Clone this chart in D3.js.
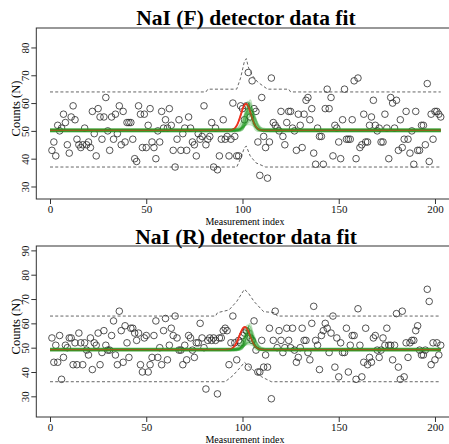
<!DOCTYPE html>
<html>
<head>
<meta charset="utf-8">
<script src="https://cdn.jsdelivr.net/npm/d3@7"></script>
<style>
  html, body { margin: 0; padding: 0; background: #fff; }
  svg { display: block; font-family: "Liberation Serif", "DejaVu Serif", serif; }
</style>
</head>
<body>
<svg id="chart" width="449" height="444"></svg>
<script>
// ---- Measured counts per index (1..203) ----
const topCounts = [
  43,46,41,52,50,51,56,53,45,42, 55,59,54,47,45,44,45,51,45,46,
  44,57,49,41,58,55,47,55,62,50, 43,55,47,56,49,59,45,57,46,53,
  53,53,47,40,39,59,56,44,56,44, 52,58,46,44,40,50,46,57,51,54,
  51,58,52,43,37,47,54,43,49,51, 43,55,51,46,45,41,49,47,48,59,
  45,47,48,53,37,51,36,41,47,54, 47,48,41,47,60,48,41,41,59,58,
  54,59,71,55,68,58,57,46,34,62, 48,44,33,46,69,53,52,51,50,57,
  48,45,53,57,57,51,50,43,56,52, 44,56,61,62,54,58,42,38,51,48,
  48,38,58,65,58,62,41,52,51,46, 40,54,65,47,47,47,54,68,40,69,
  44,45,56,46,46,52,55,61,52,50, 51,46,46,56,51,40,62,60,51,61,
  43,54,44,47,57,47,42,50,38,57, 43,43,52,52,45,67,39,56,47,57,
  57,56,55
];
const bottomCounts = [
  54,44,51,44,55,37,46,51,50,54, 54,43,52,43,56,52,43,52,49,47,
  54,41,52,51,56,43,48,57,51,49, 49,55,61,47,43,65,57,44,59,52,
  46,58,58,56,53,56,43,40,54,55, 40,43,46,55,61,46,50,43,57,62,
  45,51,58,55,63,54,49,49,43,51, 45,55,54,49,46,52,52,60,54,50,
  33,53,54,53,54,53,31,54,54,57, 58,57,43,52,63,52,45,53,52,55,
  56,57,42,54,53,61,49,40,40,53, 42,47,42,58,29,53,65,50,57,53,
  48,50,58,53,50,58,49,44,46,50, 58,53,53,48,45,60,67,53,51,41,
  55,57,60,58,48,56,63,42,54,38, 52,48,48,58,40,51,55,55,37,66,
  51,38,44,58,43,46,44,54,55,49, 46,49,54,51,58,51,51,45,51,64,
  42,37,65,38,52,46,52,53,53,57, 59,49,47,47,49,74,69,43,52,45,
  52,47,51
];

// ---- Prediction band (dashed), [index, counts] ----
const topUpper = [[0,64],[81,64],[82,65],[97,65],[99,69],[101,75],[102,76],[103,73],[105,70],[108,67.5],[113,65],[124,65],[125,64],[203,64]];
const topLower = [[0,37],[97,37],[99,40],[101,44],[102,44.5],[104,41],[107,38.5],[112,37],[203,37]];
const bottomUpper = [[0,63],[86,63],[87,64.4],[93,65.5],[97,69],[101,74],[103,72.5],[106,69],[111,64.8],[117,64.4],[118,63],[203,63]];
const bottomLower = [[0,36],[91,36],[95,38.5],[99,42],[101,44],[103,42.5],[106,40.5],[110,38],[115,36],[203,36]];

// ---- Fitted peak model: best fit (red) and posterior draws (green) ----
// each fit = baseline + amplitude * exp(-(x - centre)^2 / (2 width^2))
const topBestFit = { base: 50.2, amp: 9.5, centre: 101.8, width: 2.6 };
const topDrawBase   = [50.0,50.4,49.8,50.6,50.2,49.7,50.5,50.1,49.9,50.7,50.3,49.6,50.0,50.4,50.8,49.8,50.2,50.5,49.9,50.1];
const topDrawAmp    = [9.5,7.0,10.8,5.5,8.2,4.0,6.5,11.0,3.0,6.0,8.8,4.5,7.5,9.8,5.0,2.5,6.2,8.0,10.2,3.5];
const topDrawCentre = [103.5,104.2,102.8,103.9,104.6,103.2,102.5,104.0,103.6,105.0,103.0,104.4,102.9,103.7,104.8,103.3,102.7,104.1,103.8,104.5];
const topDrawWidth  = [1.8,2.2,1.6,2.5,2.0,2.8,2.4,1.5,3.0,2.0,1.7,2.6,2.1,1.6,2.3,3.2,2.5,1.9,1.5,2.7];

const bottomBestFit = { base: 49.2, amp: 9.3, centre: 101.2, width: 2.8 };
const bottomDrawBase   = [49.0,49.5,48.8,49.6,49.2,48.7,49.4,49.1,48.9,49.7,49.3,48.6,49.0,49.5,49.8,48.8,49.2,49.4,48.9,49.1];
const bottomDrawAmp    = [9.0,6.5,10.5,5.0,8.0,3.5,6.0,10.8,3.0,5.5,8.5,4.2,7.0,9.6,4.8,2.5,6.0,7.6,10.0,3.2];
const bottomDrawCentre = [103.2,104.0,102.6,103.8,104.4,103.0,102.4,103.9,103.4,104.8,102.9,104.2,102.8,103.5,104.6,103.1,102.6,103.9,103.6,104.3];
const bottomDrawWidth  = [1.9,2.3,1.7,2.6,2.1,2.9,2.5,1.6,3.1,2.1,1.8,2.7,2.2,1.7,2.4,3.2,2.6,2.0,1.6,2.8];

// ---- Axis ticks and labels ----
const xTicks = [0, 50, 100, 150, 200];
const topYTicks = [30, 40, 50, 60, 70, 80];
const bottomYTicks = [30, 40, 50, 60, 70, 80, 90];
const topTitle = "NaI (F) detector data fit";
const bottomTitle = "NaI (R) detector data fit";
const xLabel = "Measurement index";
const yLabel = "Counts (N)";

const svg = d3.select("#chart");
const boxLeft = 36.3, boxRight = 458.3;
const x = d3.scaleLinear().domain([-7.12, 212.12]).range([boxLeft, boxRight]);

function peakSeries(p) {
  const xs = d3.range(0, 203.01, 0.25);
  return xs.map(i => [i, p.base + p.amp * Math.exp(-((i - p.centre) ** 2) / (2 * p.width * p.width))]);
}

function drawPanel(cfg) {
  const y = d3.scaleLinear().domain(cfg.yDomain).range([cfg.boxBottom, cfg.boxTop]);
  const g = svg.append("g");
  const line = d3.line().x(d => x(d[0])).y(d => y(d[1]));

  // title
  g.append("text")
    .attr("x", 246).attr("y", cfg.titleY)
    .attr("text-anchor", "middle")
    .attr("font-weight", "bold").attr("font-size", 21.5)
    .text(cfg.title);

  // prediction band
  [cfg.upper, cfg.lower].forEach(band => {
    g.append("path").datum(band)
      .attr("d", line).attr("fill", "none")
      .attr("stroke", "#555").attr("stroke-width", 0.9)
      .attr("stroke-dasharray", "3,2.2");
  });

  // observed counts
  g.append("g").selectAll("circle").data(cfg.counts).join("circle")
    .attr("cx", (d, i) => x(i + 1)).attr("cy", d => y(d))
    .attr("r", 3.3).attr("fill", "none")
    .attr("stroke", "#2a2a2a").attr("stroke-width", 0.8);

  // best fit
  g.append("path").datum(peakSeries(cfg.best))
    .attr("d", line).attr("fill", "none")
    .attr("stroke", "#ee2a1e").attr("stroke-width", 1.9);

  // posterior draws
  const draws = cfg.drawBase.map((b, k) => ({ base: b, amp: cfg.drawAmp[k], centre: cfg.drawCentre[k], width: cfg.drawWidth[k] }));
  g.append("g").selectAll("path").data(draws).join("path")
    .attr("d", d => line(peakSeries(d))).attr("fill", "none")
    .attr("stroke", "#1f9a1f").attr("stroke-width", 1.3).attr("stroke-opacity", 0.28);

  // red centre line on the baseline, seen through the draws
  g.append("path").datum(peakSeries(cfg.best))
    .attr("d", line).attr("fill", "none")
    .attr("stroke", "#ee3a1e").attr("stroke-width", 1.3).attr("stroke-opacity", 0.55);

  // box
  g.append("rect")
    .attr("x", boxLeft).attr("y", cfg.boxTop)
    .attr("width", boxRight - boxLeft).attr("height", cfg.boxBottom - cfg.boxTop)
    .attr("fill", "none").attr("stroke", "#333").attr("stroke-width", 1);

  // x axis
  const xa = g.append("g").attr("transform", `translate(0,${cfg.boxBottom})`)
    .call(d3.axisBottom(x).tickValues(xTicks).tickSize(5).tickPadding(1));
  xa.select(".domain").remove();
  xa.selectAll("line").attr("stroke", "#333");
  xa.selectAll("text").attr("font-family", "Liberation Serif").attr("font-size", 11).attr("fill", "#111");

  // y axis, labels rotated parallel to the axis
  const ya = g.append("g").attr("transform", `translate(${boxLeft},0)`)
    .call(d3.axisLeft(y).tickValues(cfg.yTicks).tickSize(5));
  ya.select(".domain").remove();
  ya.selectAll("line").attr("stroke", "#333");
  ya.selectAll("text")
    .attr("x", null).attr("dy", null)
    .attr("text-anchor", "middle")
    .attr("font-family", "Liberation Serif").attr("font-size", 11).attr("fill", "#111")
    .attr("transform", "translate(-7,0) rotate(-90)");

  // axis titles
  g.append("text")
    .attr("x", 245).attr("y", cfg.xLabelY)
    .attr("text-anchor", "middle").attr("font-size", 10)
    .text(xLabel);
  g.append("text")
    .attr("transform", `translate(20,${(cfg.boxTop + cfg.boxBottom) / 2 - 5}) rotate(-90)`)
    .attr("text-anchor", "middle").attr("font-size", 12.5)
    .text(yLabel);
}

drawPanel({
  title: topTitle, titleY: 25, boxTop: 28, boxBottom: 199, yDomain: [25.5, 87],
  yTicks: topYTicks, xLabelY: 224.5, counts: topCounts, upper: topUpper, lower: topLower,
  best: topBestFit, drawBase: topDrawBase, drawAmp: topDrawAmp, drawCentre: topDrawCentre, drawWidth: topDrawWidth
});
drawPanel({
  title: bottomTitle, titleY: 244, boxTop: 246, boxBottom: 417, yDomain: [21.5, 91.8],
  yTicks: bottomYTicks, xLabelY: 442.5, counts: bottomCounts, upper: bottomUpper, lower: bottomLower,
  best: bottomBestFit, drawBase: bottomDrawBase, drawAmp: bottomDrawAmp, drawCentre: bottomDrawCentre, drawWidth: bottomDrawWidth
});
</script>
</body>
</html>
